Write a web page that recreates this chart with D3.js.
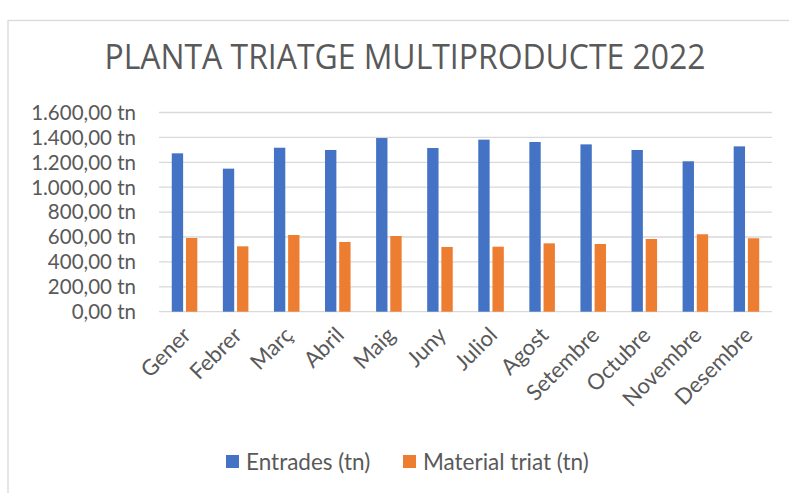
<!DOCTYPE html>
<html>
<head>
<meta charset="utf-8">
<script src="https://cdn.jsdelivr.net/npm/d3@7"></script>
<style>
  body { margin: 0; background: #fff; }
  text { font-family: Lato, "Open Sans", sans-serif; fill: #595959; }
  .title { font-family: "Open Sans", "Noto Sans", sans-serif; }
</style>
</head>
<body>
<svg id="chart_svg"></svg>
<script>
var months = ["Gener", "Febrer", "Març", "Abril", "Maig", "Juny", "Juliol",
    "Agost", "Setembre", "Octubre", "Novembre", "Desembre"];
var seriesNames = ["Entrades (tn)", "Material triat (tn)"];
var entrades = [1272, 1149, 1317, 1299, 1395, 1315, 1382, 1363, 1344, 1299, 1208, 1328];
var materialTriat = [592, 525, 616, 560, 608, 520, 522, 549, 544, 584, 622, 590];
var yTicks = [0, 200, 400, 600, 800, 1000, 1200, 1400, 1600];
var colors = ["#4472C4", "#ED7D31"];

var width = 789, height = 493;

var svg = d3.select("#chart_svg")
    .attr("width", width)
    .attr("height", height);

// chart frame
svg.append("rect")
    .attr("x", 8)
    .attr("y", 20.5)
    .attr("width", 900)
    .attr("height", 600)
    .attr("fill", "none")
    .attr("stroke", "#d9d9d9")
    .attr("stroke-width", 1.3);

svg.append("text")
    .attr("class", "title")
    .attr("x", 405)
    .attr("y", 69)
    .attr("text-anchor", "middle")
    .attr("textLength", 601)
    .attr("lengthAdjust", "spacingAndGlyphs")
    .style("font-size", "34px")
    .text("PLANTA TRIATGE MULTIPRODUCTE 2022");

var data = months.map(function (m, i) {
    return {month: m, values: [entrades[i], materialTriat[i]]};
});

var x0 = d3.scaleBand()
    .domain(months)
    .range([159, 772])
    .paddingInner(0.5)
    .paddingOuter(0.25);

var x1 = d3.scaleBand()
    .domain([0, 1])
    .range([0, x0.bandwidth()])
    .paddingInner(0.2);

var y = d3.scaleLinear()
    .domain([0, 1600])
    .range([311.7, 112.5]);

var locale = d3.formatLocale({decimal: ",", thousands: ".", grouping: [3], currency: ["", ""]});
var fmt = locale.format(",.2f");

/** grid **/
svg.append("g")
    .selectAll("line")
    .data(yTicks)
    .enter().append("line")
    .attr("x1", 159)
    .attr("x2", 772)
    .attr("y1", function (d) { return y(d); })
    .attr("y2", function (d) { return y(d); })
    .attr("stroke", "#d9d9d9")
    .attr("stroke-width", 1.3);

svg.append("g")
    .selectAll("text")
    .data(yTicks)
    .enter().append("text")
    .attr("x", 136)
    .attr("y", function (d) { return y(d); })
    .attr("dy", "0.36em")
    .attr("text-anchor", "end")
    .style("font-size", "20.5px")
    .text(function (d) { return fmt(d) + " tn"; });

/** bars **/
var groups = svg.append("g")
    .selectAll(".grp")
    .data(data)
    .enter().append("g")
    .attr("class", "grp")
    .attr("transform", function (d) { return "translate(" + x0(d.month) + ",0)"; });

groups.selectAll("rect")
    .data(function (d) { return d.values; })
    .enter().append("rect")
    .attr("x", function (d, i) { return x1(i); })
    .attr("y", function (d) { return y(d); })
    .attr("width", x1.bandwidth())
    .attr("height", function (d) { return y(0) - y(d); })
    .attr("fill", function (d, i) { return colors[i]; });

/** x labels **/
svg.append("g")
    .selectAll("text")
    .data(months)
    .enter().append("text")
    .attr("transform", function (d) {
        return "translate(" + (x0(d) + x0.bandwidth() / 2 + 2) + ",331) rotate(-45)";
    })
    .attr("text-anchor", "end")
    .attr("dy", "0.36em")
    .style("font-size", "22px")
    .text(function (d) { return d; });

/** legend **/
var legendX = [226, 403];
var legend = svg.append("g")
    .selectAll("g")
    .data(seriesNames)
    .enter().append("g")
    .attr("transform", function (d, i) { return "translate(" + legendX[i] + ",455)"; });

legend.append("rect")
    .attr("width", 13)
    .attr("height", 13)
    .attr("fill", function (d, i) { return colors[i]; });

legend.append("text")
    .attr("x", 20)
    .attr("y", 6.5)
    .attr("dy", "0.36em")
    .style("font-size", "22.5px")
    .text(function (d) { return d; });
</script>
</body>
</html>
